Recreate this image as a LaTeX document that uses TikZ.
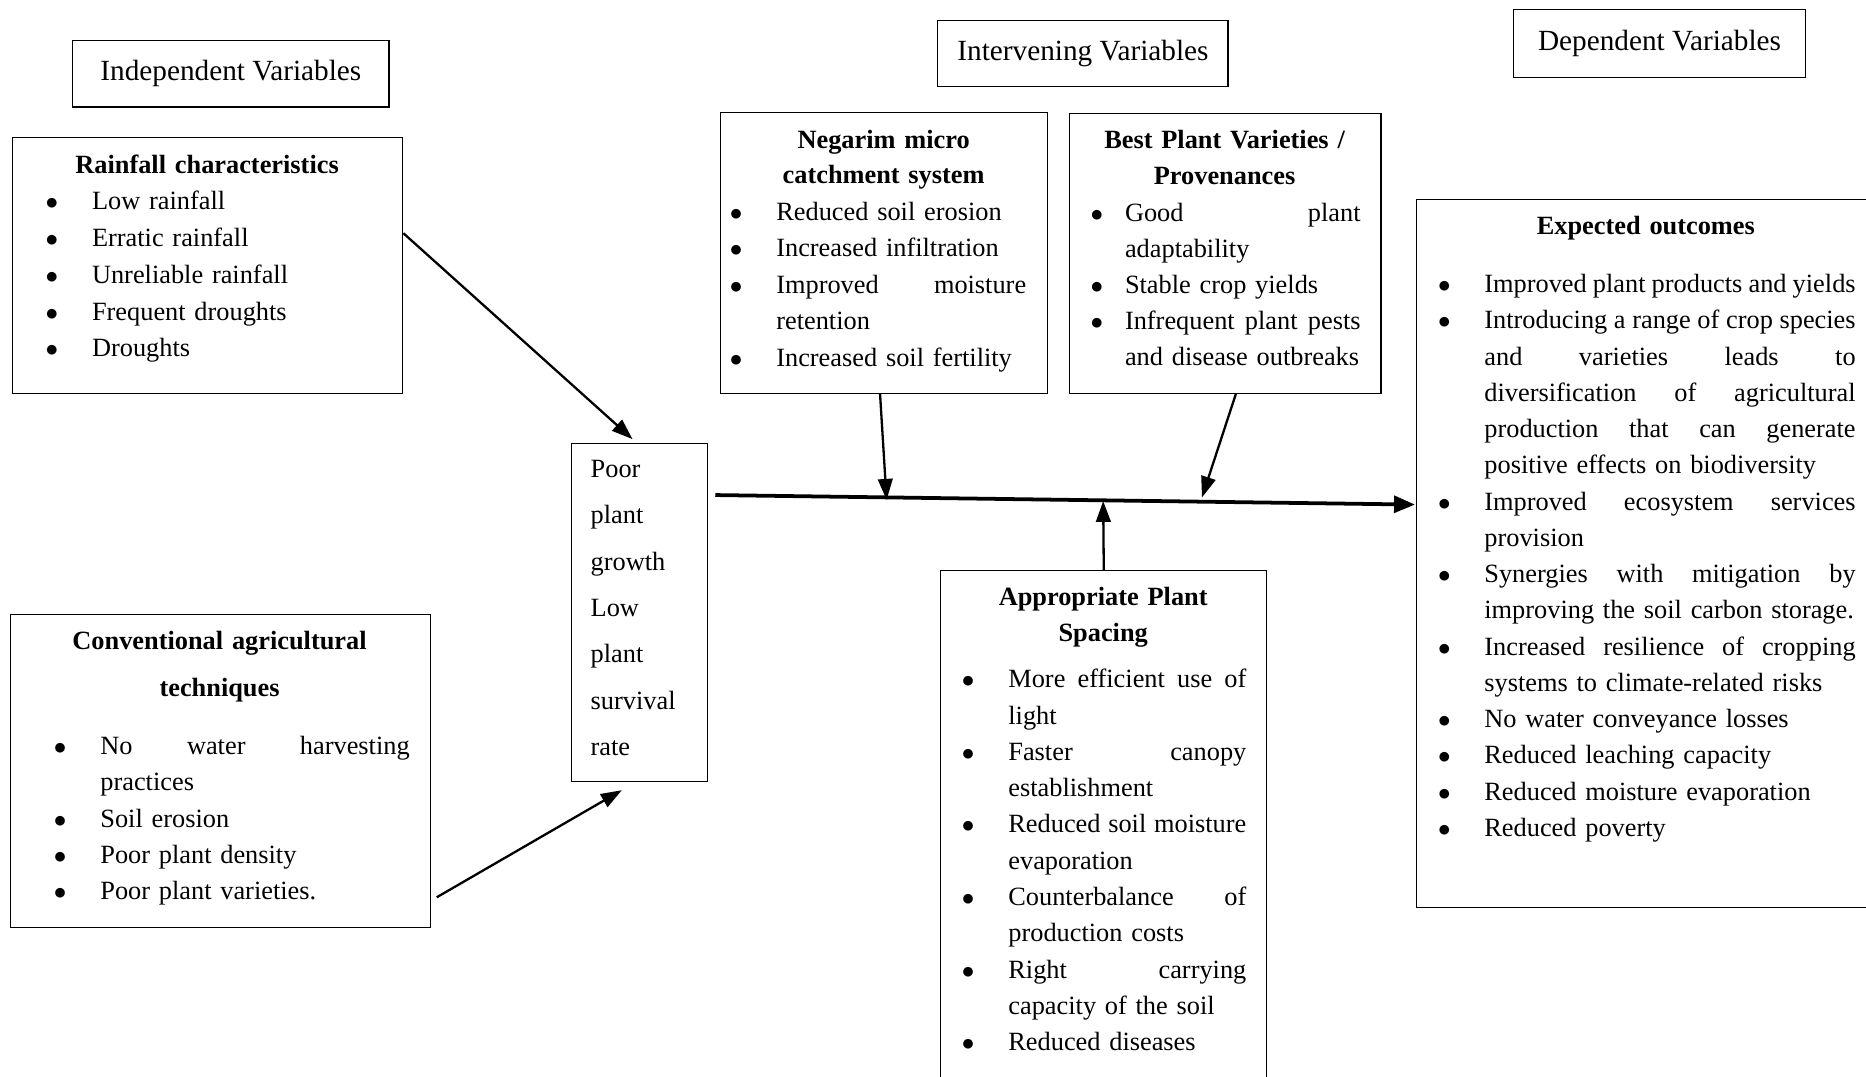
\documentclass[tikz,border=0pt]{standalone}
\usepackage{fontspec}
\setmainfont{Liberation Serif}
\usetikzlibrary{arrows.meta,calc}

\newcommand\bl{\makebox[0.78cm][l]{$\bullet$}}
\newcommand\cn{\hspace*{0.78cm}}
\newcommand\blb{\makebox[0.58cm][l]{$\bullet$}}
\newcommand\cnb{\hspace*{0.58cm}}

\begin{document}
\begin{tikzpicture}[x=0.02cm, y=-0.02cm,
    box/.style={draw, line width=0.6pt, inner sep=0pt, anchor=north west},
    hdr/.style={draw, line width=0.6pt, inner sep=0pt, font=\fontsize{14}{16}\selectfont},
    ttl/.style={anchor=base, inner sep=0pt, align=center, font=\bfseries\fontsize{12.6}{17}\selectfont},
    lst/.style={anchor=base west, inner sep=0pt, align=left, font=\fontsize{12.6}{17.4}\selectfont},
    arr/.style={line width=1.1pt, -{Triangle[length=10pt,width=7pt]}},
    mainarr/.style={line width=1.8pt, -{Triangle[length=10pt,width=8pt]}}]
    \useasboundingbox (0,0) rectangle (1568,905);
    \clip (0,0) rectangle (1568,905);

    % headings
    \node[hdr, minimum width=5.32cm, minimum height=1.12cm] (indep) at (194,62) {Independent Variables};
    \node[hdr, minimum width=4.88cm, minimum height=1.12cm] (interv) at (910,45) {Intervening Variables};
    \node[hdr, minimum width=4.90cm, minimum height=1.14cm] (dep) at (1394.5,36.5) {Dependent Variables};

    % boxes
    \node[box, minimum width=6.56cm, minimum height=4.30cm] (rain) at (10,115) {};
    \node[box, minimum width=7.06cm, minimum height=5.26cm] (conv) at (8,516) {};
    \node[box, minimum width=2.28cm, minimum height=5.68cm] (poor) at (480,372) {};
    \node[box, minimum width=5.50cm, minimum height=4.72cm] (neg) at (605,94) {};
    \node[box, minimum width=5.24cm, minimum height=4.70cm] (best) at (898,95) {};
    \node[box, minimum width=5.48cm, minimum height=9.20cm] (space) at (790,479) {};
    \node[box, minimum width=8.00cm, minimum height=11.90cm] (outc) at (1190,167) {};

    % box titles
    \node[ttl, text width=6.56cm] (raint) at (174,146) {Rainfall characteristics};
    \node[ttl, text width=7.06cm, font=\bfseries\fontsize{12.6}{22.2}\selectfont] (convt) at (184.5,546) {Conventional agricultural\\techniques};
    \node[ttl, text width=5.50cm, font=\bfseries\fontsize{12.6}{16.5}\selectfont] (negt) at (742.5,125) {Negarim micro\\catchment system};
    \node[ttl, text width=5.24cm] (bestt) at (1029,125) {Best Plant Varieties /\\Provenances};
    \node[ttl, text width=5.48cm] (spacet) at (927,509) {Appropriate Plant\\Spacing};
    \node[ttl, text width=7.00cm] (outct) at (1383,197) {Expected outcomes};

    % box contents
    \node[lst, text width=6.00cm, font=\fontsize{12.6}{17.64}\selectfont] (rainl) at (38,176) {\bl Low rainfall\\ \bl Erratic rainfall\\ \bl Unreliable rainfall\\ \bl Frequent droughts\\ \bl Droughts};
    \node[lst, text width=5.98cm, font=\fontsize{12.6}{17.35}\selectfont] (convl) at (45,634) {\bl No\hfill water\hfill harvesting\\ \cn practices\\ \bl Soil erosion\\ \bl Poor plant density\\ \bl Poor plant varieties.};
    \node[lst, text width=2.00cm, font=\fontsize{12.6}{22.2}\selectfont] (poorl) at (496,401) {Poor\\ plant\\ growth\\ Low\\ plant\\ survival\\ rate};
    \node[lst, text width=4.98cm, font=\fontsize{12.6}{17.5}\selectfont] (negl) at (613,185) {\bl Reduced soil erosion\\ \bl Increased infiltration\\ \bl Improved\hfill moisture\\ \cn retention\\ \bl Increased soil fertility};
    \node[lst, text width=4.54cm, font=\fontsize{12.6}{17.2}\selectfont] (bestl) at (916,186) {\blb Good\hfill plant\\ \cnb adaptability\\ \blb Stable crop yields\\ \blb Infrequent\hfill plant\hfill pests\\ \cnb and disease outbreaks};
    \node[lst, text width=4.78cm, font=\fontsize{12.6}{17.35}\selectfont] (spacel) at (808,578) {\bl More\hfill efficient\hfill use\hfill of\\ \cn light\\ \bl Faster\hfill canopy\\ \cn establishment\\ \bl Reduced\hfill soil\hfill moisture\\ \cn evaporation\\ \bl Counterbalance\hfill of\\ \cn production costs\\ \bl Right\hfill carrying\\ \cn capacity of the soil\\ \bl Reduced diseases};
    \node[lst, text width=7.02cm, font=\fontsize{12.6}{17.33}\selectfont] (outcl) at (1208,246) {\bl Improved\hfill plant\hfill products\hfill and\hfill yields\\
        \bl Introducing\hfill a\hfill range\hfill of\hfill crop\hfill species\\
        \cn and\hfill varieties\hfill leads\hfill to\\
        \cn diversification\hfill of\hfill agricultural\\
        \cn production\hfill that\hfill can\hfill generate\\
        \cn positive effects on biodiversity\\
        \bl Improved\hfill ecosystem\hfill services\\
        \cn provision\\
        \bl Synergies\hfill with\hfill mitigation\hfill by\\
        \cn improving the soil carbon storage.\\
        \bl Increased\hfill resilience\hfill of\hfill cropping\\
        \cn systems to climate-related risks\\
        \bl No water conveyance losses\\
        \bl Reduced leaching capacity\\
        \bl Reduced moisture evaporation\\
        \bl Reduced poverty};

    % points on the main line
    \coordinate (j1) at (745,420);
    \coordinate (j2) at (1010,418);
    \coordinate (j3) at (927,421);

    % connectors
    \draw[arr] ($(rain.north east)+(0,81)$) -- ($(poor.north)+(-6,-3)$);
    \draw[arr] ($(conv.north east)+(5,238)$) -- ($(poor.south)+(-15,7)$);
    \draw[mainarr] ($(poor.north east)+(6,44)$) -- ($(outc.north west)+(-1,257)$);
    \draw[arr] ($(neg.south)+(-3.5,0)$) -- (j1);
    \draw[arr] ($(best.south)+(9,0)$) -- (j2);
    \draw[arr] (space.north) -- (j3);
\end{tikzpicture}
\end{document}
